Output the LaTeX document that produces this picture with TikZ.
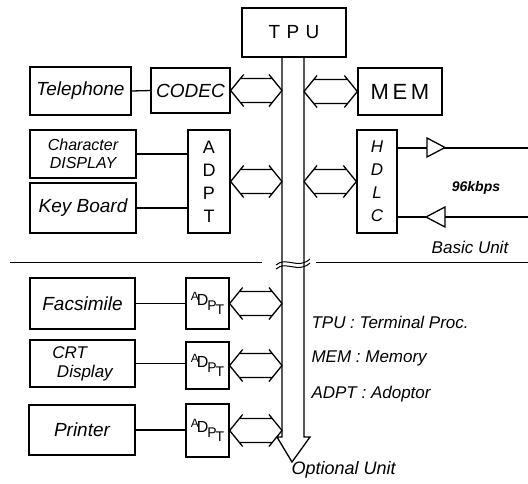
\documentclass[tikz,border=0pt]{standalone}
\usepackage{fontspec}
\setmainfont{Liberation Sans}
\usetikzlibrary{calc}
\tikzset{
  box/.style={draw, line width=1.3pt, inner sep=1pt, align=center},
  wire/.style={line width=1.3pt},
  lbl/.style={font=\itshape\fontsize{19}{20}\selectfont},
  note/.style={font=\itshape\fontsize{17}{17}\selectfont},
  busarrow/.style={line width=1.3pt, to path={let \p1=(\tikztostart), \p2=(\tikztotarget) in
    (\p1) -- ++(13pt,16pt) (\p1) -- ++(13pt,-16pt)
    (\x1+10pt,\y1+12pt) -- (\x2-10pt,\y1+12pt)
    (\x1+10pt,\y1-12pt) -- (\x2-10pt,\y1-12pt)
    (\p2) -- ++(-13pt,16pt) (\p2) -- ++(-13pt,-16pt)}},
}
\newcommand{\smalladpt}{\raisebox{6pt}{\fontsize{12}{12}\selectfont A}\kern-2pt\raisebox{1pt}{\fontsize{16}{16}\selectfont D}\kern-1pt\raisebox{-4pt}{\fontsize{14}{14}\selectfont P}\kern-1pt\raisebox{-8pt}{\fontsize{14}{14}\selectfont T}}
\begin{document}
\begin{tikzpicture}[x=1pt,y=-1pt]
\useasboundingbox (0,0) rectangle (528,483);
% boxes
\node[box, minimum width=104pt, minimum height=49pt, font=\fontsize{19}{19}\selectfont] (TPU) at (294,32.5) {T\,\,P\,\,U};
\node[box, lbl, minimum width=101pt, minimum height=48pt] (tel) at (80.5,91) {Telephone};
\node[box, lbl, minimum width=79pt, minimum height=45pt] (codec) at (190.5,90.5) {CODEC};
\node[box, minimum width=84pt, minimum height=47pt, font=\fontsize{22}{22}\selectfont] (mem) at (400,91.5) {M\,E\,M};
\node[box, minimum width=106pt, minimum height=48pt, font=\itshape\fontsize{16}{18}\selectfont] (chr) at (83,154) {Character\\DISPLAY};
\node[box, lbl, minimum width=106pt, minimum height=50pt] (kbd) at (83,208) {Key Board};
\node[box, minimum width=42pt, minimum height=103pt, font=\fontsize{18}{23}\selectfont] (adpt) at (209,181.5) {A\\D\\P\\T};
\node[box, minimum width=40pt, minimum height=103pt, font=\itshape\fontsize{17}{23}\selectfont] (hdlc) at (377,181.5) {H\\D\\L\\C};
\node[box, lbl, minimum width=105pt, minimum height=51pt] (fax) at (82.5,303.5) {Facsimile};
\node[box, minimum width=43pt, minimum height=51pt] (ad1) at (207.5,303.5) {\smalladpt};
\node[box, minimum width=105pt, minimum height=47pt, font=\itshape\fontsize{17}{19}\selectfont, align=left] (crt) at (82.5,363.5) {CRT\\\ Display};
\node[box, minimum width=43pt, minimum height=47pt] (ad2) at (207.5,365.5) {\smalladpt};
\node[box, lbl, minimum width=106pt, minimum height=50pt] (prn) at (82,430) {Printer};
\node[box, minimum width=43pt, minimum height=53pt] (ad3) at (207.5,430.5) {\smalladpt};
% bus
\coordinate (bl) at (282,57);
\coordinate (br) at (304,57);
\draw[wire] (TPU.south -| bl) -- (282,437) -- (277,437) -- (292,462) -- (310,437) -- (304,437) -- (TPU.south -| br);
% break mark
\draw[line width=1pt] (276,265) .. controls (286,256) and (298,270) .. (310,259);
\draw[line width=1pt] (276,269) .. controls (286,260) and (298,274) .. (310,263);
% divider
\draw[line width=1pt] (10,262) -- (262,262);
\draw[line width=1pt] (316,262) -- (528,262);
% plain connectors
\draw[wire] (tel.east) -- (codec.west);
\draw[wire] (chr.east) -- (chr.east -| adpt.west);
\draw[wire] (kbd.east) -- (kbd.east -| adpt.west);
\draw[wire] (fax.east) -- (fax.east -| ad1.west);
\draw[wire] (crt.east) -- (crt.east -| ad2.west);
\draw[wire] (prn.east) -- (prn.east -| ad3.west);
% bus arrows
\draw[busarrow] (codec.east) to (codec.east -| bl);
\draw[busarrow] (mem.west -| br) to (mem.west);
\draw[busarrow] (adpt.east) to (adpt.east -| bl);
\draw[busarrow] (hdlc.west -| br) to (hdlc.west);
\draw[busarrow] (ad1.east) to (ad1.east -| bl);
\draw[busarrow] (ad2.east) to (ad2.east -| bl);
\draw[busarrow] (ad3.east) to (ad3.east -| bl);
% HDLC lines
\coordinate (o1) at (528,148);
\coordinate (o2) at (528,217);
\draw[wire] (hdlc.east |- o1) -- (o1);
\draw[wire] (hdlc.east |- o2) -- (o2);
\draw[wire, fill=white] (427,138) -- (445,147.5) -- (427,157) -- cycle;
\draw[wire, fill=white] (426,217) -- (445,207) -- (445,227) -- cycle;
% texts
\node[font=\itshape\bfseries\fontsize{14}{14}\selectfont] (rate) at (476,188) {96kbps};
\node[note] (basic) at (470,247) {Basic Unit};
\node[note, anchor=west] (l1) at (308,322) {TPU : Terminal Proc.};
\node[note, anchor=west] (l2) at (308,358) {MEM : Memory};
\node[note, anchor=west] (l3) at (308,394) {ADPT : Adoptor};
\node[font=\itshape\fontsize{18}{18}\selectfont, anchor=west] (opt) at (288,470) {Optional Unit};
\end{tikzpicture}
\end{document}
